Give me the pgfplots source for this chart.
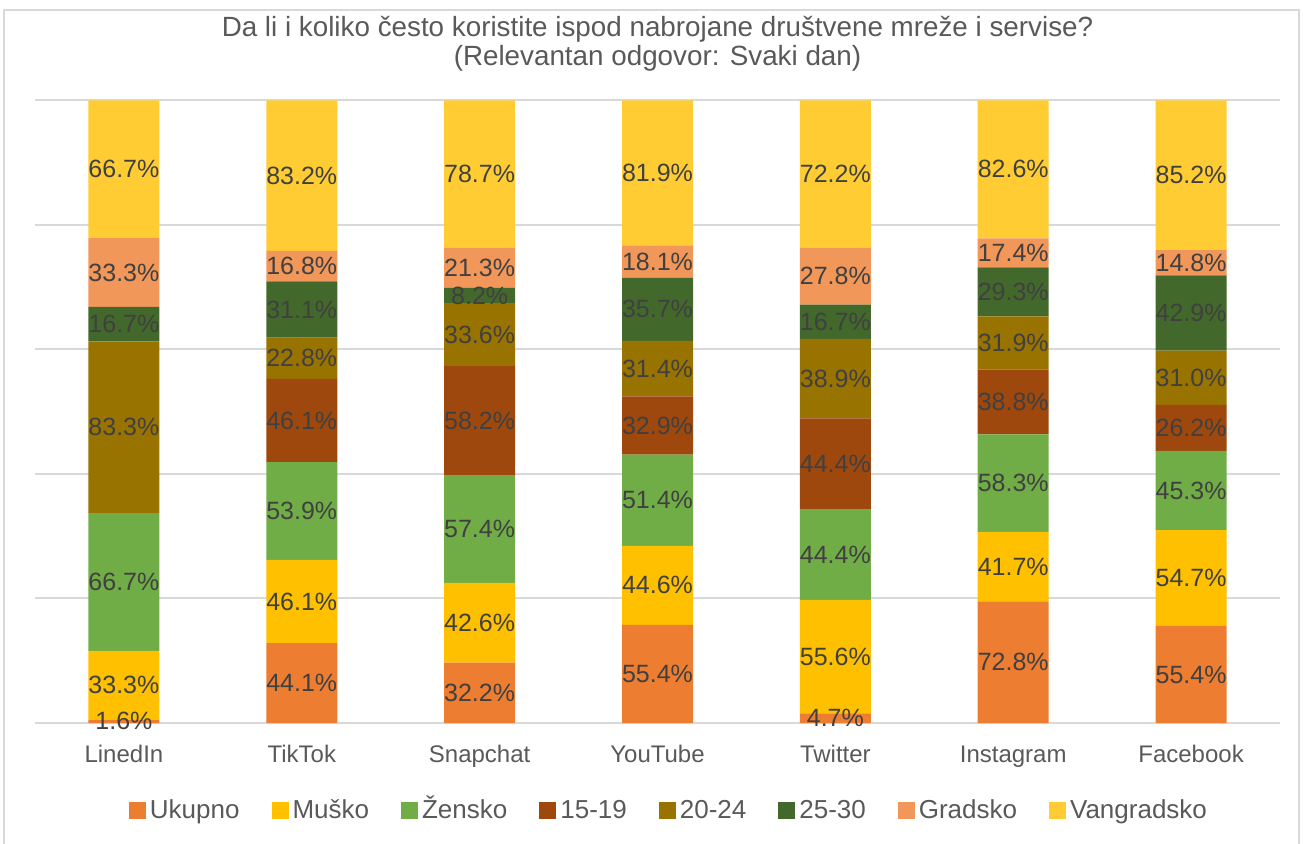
\documentclass[border=0pt]{standalone}
\usepackage{fontspec}
\setmainfont{Liberation Sans}
\usepackage{pgfplots}
\pgfplotsset{compat=1.18}
\usepackage{pgfplotstable}

\definecolor{cUk}{HTML}{ED7D31}
\definecolor{cMu}{HTML}{FFC000}
\definecolor{cZe}{HTML}{70AD47}
\definecolor{cA}{HTML}{9E480E}
\definecolor{cB}{HTML}{997300}
\definecolor{cC}{HTML}{43682B}
\definecolor{cGr}{HTML}{F1975A}
\definecolor{cVa}{HTML}{FFCD33}
\definecolor{txt}{HTML}{595959}
\definecolor{lbl}{HTML}{404040}
\definecolor{cgrid}{HTML}{D9D9D9}

% raw percentages per network; tot = sum of the bar, used for 100% stacking
\pgfplotstableread{
x u m z a b c g v tot
0 1.6 33.3 66.7 0 83.3 16.7 33.3 66.7 301.6
1 44.1 46.1 53.9 46.1 22.8 31.1 16.8 83.2 344.1
2 32.2 42.6 57.4 58.2 33.6 8.2 21.3 78.7 332.2
3 55.4 44.6 51.4 32.9 31.4 35.7 18.1 81.9 351.4
4 4.7 55.6 44.4 44.4 38.9 16.7 27.8 72.2 304.7
5 72.8 41.7 58.3 38.8 31.9 29.3 17.4 82.6 372.8
6 55.4 54.7 45.3 26.2 31.0 42.9 14.8 85.2 355.5
}\data

\newcommand\seglabel{\ifdim\rawval pt=0pt\else
  \pgfmathprintnumber[fixed,fixed zerofill,precision=1,assume math mode=true]{\rawval}\%\fi}

\pgfplotsset{
  seg/.style 2 args={fill=#1, draw=none,
    visualization depends on={\thisrow{#2} \as \rawval}},
}

\begin{document}
\begin{tikzpicture}
\path[use as bounding box] (0,0) rectangle (651.5pt,421.5pt);
\draw[cgrid, line width=0.6pt] (2pt,-5pt) rectangle (649.5pt,416.5pt);
\begin{axis}[
  at={(17.5pt,60pt)}, anchor=south west,
  scale only axis, width=622.5pt, height=311.5pt,
  ybar stacked, bar width=35.5pt, clip=false,
  xmin=-0.5, xmax=6.5, ymin=0, ymax=100.05,
  xtick={0,...,6},
  xticklabels={LinedIn,TikTok,Snapchat,YouTube,Twitter,Instagram,Facebook},
  ytick={0,20,40,60,80,100}, yticklabels={},
  ymajorgrids, grid style={cgrid, line width=1pt},
  axis line style={draw=none}, major tick length=0pt,
  xticklabel style={font=\fontsize{12}{14}\selectfont, text=txt, yshift=-7pt,
    text height=9pt, text depth=2.5pt},
  nodes near coords={\seglabel},
  every node near coord/.append style={anchor=center,
    font=\fontsize{12.5}{14}\selectfont, text=lbl, inner sep=0pt},
  legend style={at={(0.51,-0.14)}, anchor=center, draw=none, fill=none,
    font=\fontsize{13}{15}\selectfont, text=txt, legend columns=8,
    /tikz/nodes={text height=11pt, text depth=3pt},
    /tikz/every even column/.append style={column sep=14pt}},
  legend image code/.code={\fill[#1] (0pt,-4.25pt) rectangle (8.5pt,4.25pt);},
  title={Da li i koliko često koristite ispod nabrojane društvene mreže i servise?\\(Relevantan odgovor: Svaki dan)},
  title style={at={(0.5,1)}, anchor=south, yshift=5pt, align=center,
    font=\fontsize{13.9}{14.5}\selectfont, text=txt},
]
\addplot[seg={cUk}{u}] table[x=x, y expr=\thisrow{u}/\thisrow{tot}*100] {\data};
\addlegendentry{Ukupno}
\addplot[seg={cMu}{m}] table[x=x, y expr=\thisrow{m}/\thisrow{tot}*100] {\data};
\addlegendentry{Muško}
\addplot[seg={cZe}{z}] table[x=x, y expr=\thisrow{z}/\thisrow{tot}*100] {\data};
\addlegendentry{Žensko}
\addplot[seg={cA}{a}] table[x=x, y expr=\thisrow{a}/\thisrow{tot}*100] {\data};
\addlegendentry{15-19}
\addplot[seg={cB}{b}] table[x=x, y expr=\thisrow{b}/\thisrow{tot}*100] {\data};
\addlegendentry{20-24}
\addplot[seg={cC}{c}] table[x=x, y expr=\thisrow{c}/\thisrow{tot}*100] {\data};
\addlegendentry{25-30}
\addplot[seg={cGr}{g}] table[x=x, y expr=\thisrow{g}/\thisrow{tot}*100] {\data};
\addlegendentry{Gradsko}
\addplot[seg={cVa}{v}] table[x=x, y expr=\thisrow{v}/\thisrow{tot}*100] {\data};
\addlegendentry{Vangradsko}
\end{axis}
\end{tikzpicture}
\end{document}
